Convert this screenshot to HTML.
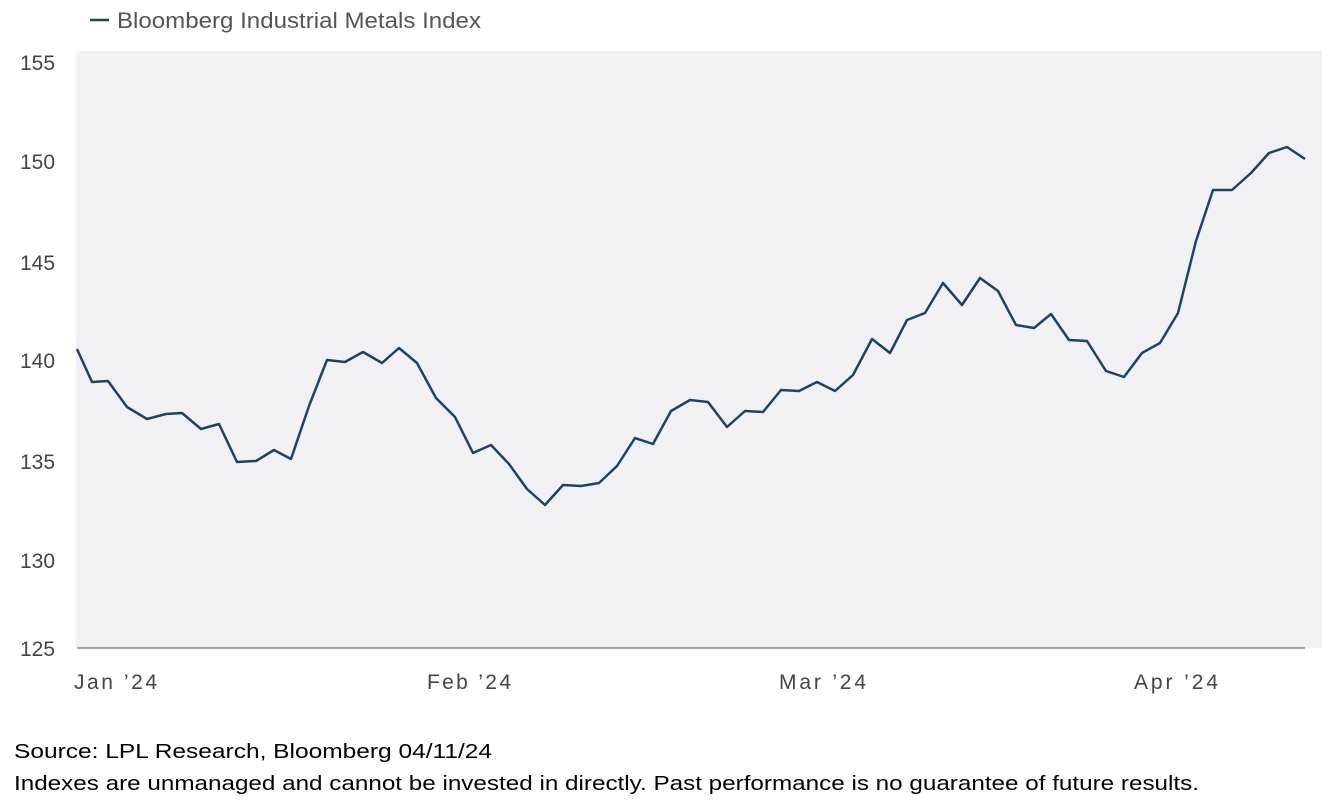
<!DOCTYPE html>
<html><head><meta charset="utf-8"><style>
html,body{margin:0;padding:0;background:#fff;}
svg{display:block;}
</style></head><body>
<svg width="1328" height="811" xmlns="http://www.w3.org/2000/svg">
<rect x="76" y="51" width="1246" height="597" fill="#f1f1f4"/>
<line x1="90" y1="20" x2="109" y2="20" stroke="#1f4166" stroke-width="2.5"/>
<text x="117" y="28" font-family="Liberation Sans, sans-serif" font-size="22" fill="#555" textLength="364" lengthAdjust="spacingAndGlyphs">Bloomberg Industrial Metals Index</text>
<g font-family="Liberation Sans, sans-serif" font-size="21" fill="#444">
<text x="20" y="70">155</text>
<text x="20" y="169">150</text>
<text x="20" y="270">145</text>
<text x="20" y="368">140</text>
<text x="20" y="469">135</text>
<text x="20" y="568">130</text>
<text x="20" y="656">125</text>
<text x="74" y="689" textLength="83" lengthAdjust="spacing">Jan ’24</text>
<text x="427" y="689" textLength="84" lengthAdjust="spacing">Feb ’24</text>
<text x="779" y="689" textLength="87" lengthAdjust="spacing">Mar ’24</text>
<text x="1134" y="689" textLength="84" lengthAdjust="spacing">Apr ’24</text>
</g>
<line x1="77" y1="648" x2="1305" y2="648" stroke="#888" stroke-width="1.5"/>
<polyline fill="none" stroke="#1f4166" stroke-width="2.5" stroke-linejoin="round" points="77,349 92,382 108,381 127,407 147,419 166,414 182,413 201,429 219,424 237,462 256,461 274,450 291,459 309,406 327,360 345,362 363,352 382,363 399,348 417,363 436,398 455,417 473,453 491,445 509,464 527,489 545,505 563,485 581,486 599,483 617,466 635,438 653,444 671,411 690,400 708,402 727,427 745,411 763,412 781,390 799,391 817,382 835,391 853,375 872,339 890,353 907,320 925,313 943,283 962,305 980,278 998,291 1016,325 1034,328 1051,314 1069,340 1087,341 1106,371 1124,377 1142,353 1160,343 1178,313 1196,241 1213,190 1232,190 1251,173 1269,153 1287,147 1305,159"/>
<g font-family="Liberation Sans, sans-serif" font-size="20" fill="#000">
<text x="14" y="758" textLength="478" lengthAdjust="spacingAndGlyphs">Source: LPL Research, Bloomberg 04/11/24</text>
<text x="14" y="790" textLength="1185" lengthAdjust="spacingAndGlyphs">Indexes are unmanaged and cannot be invested in directly. Past performance is no guarantee of future results.</text>
</g>
</svg>
</body></html>
